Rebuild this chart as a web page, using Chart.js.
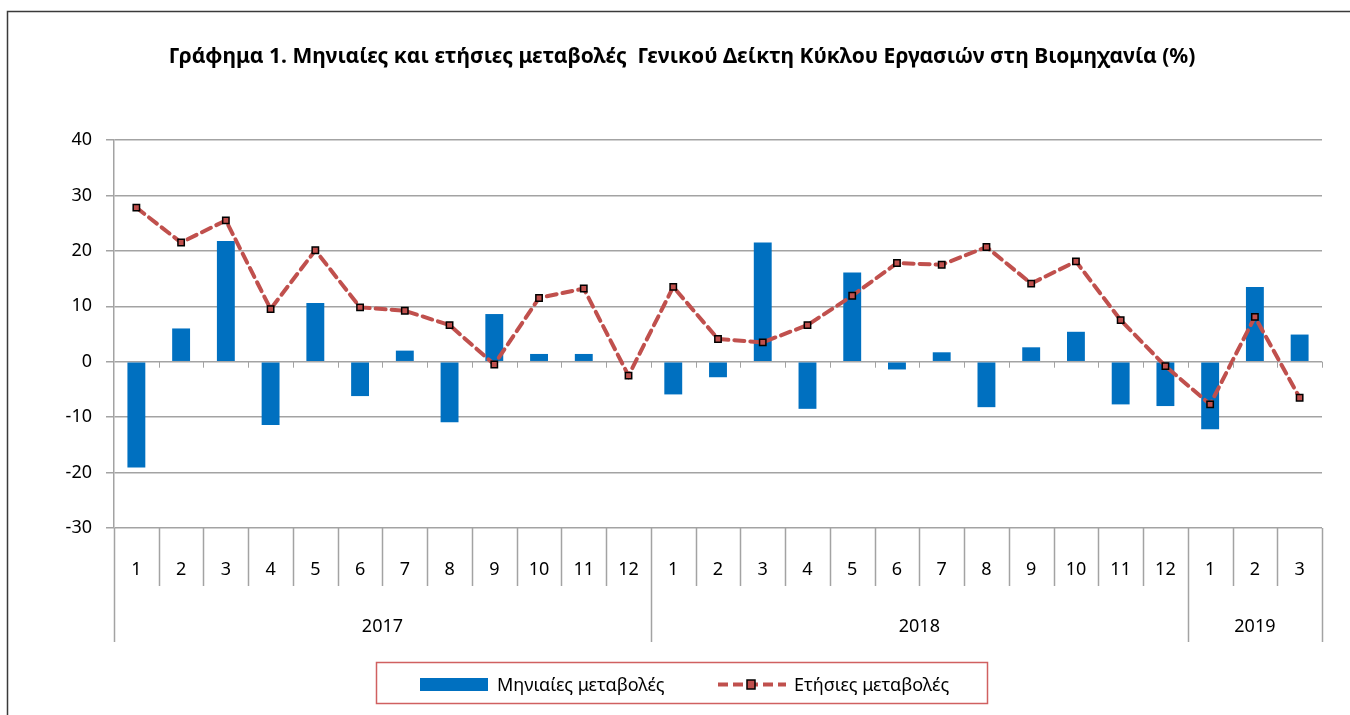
<!DOCTYPE html>
<html>
<head>
<meta charset="utf-8">
<script src="https://cdn.jsdelivr.net/npm/chart.js@4/dist/chart.umd.min.js"></script>
<style>
  html, body { margin: 0; padding: 0; background: #fff; }
  #wrap { width: 1350px; height: 715px; position: relative; }
</style>
</head>
<body>
<div id="wrap"><canvas id="turnoverchart" width="1350" height="715"></canvas></div>
<script>
// Data block
const monthLabels = ['1','2','3','4','5','6','7','8','9','10','11','12',
                     '1','2','3','4','5','6','7','8','9','10','11','12',
                     '1','2','3'];
const yearLabels = ['2017', '2018', '2019'];
const yearSpans = [12, 12, 3];
const monthlyChange = [-19.1, 6.0, 21.8, -11.4, 10.6, -6.2, 2.0, -10.9, 8.6, 1.4, 1.4, 0.0,
                       -5.9, -2.8, 21.5, -8.5, 16.1, -1.4, 1.7, -8.2, 2.6, 5.4, -7.7, -8.0,
                       -12.2, 13.5, 4.9];
const annualChange = [27.8, 21.5, 25.5, 9.5, 20.1, 9.8, 9.2, 6.6, -0.5, 11.5, 13.2, -2.5,
                      13.5, 4.1, 3.5, 6.6, 11.9, 17.8, 17.5, 20.7, 14.1, 18.1, 7.5, -0.8,
                      -7.7, 8.1, -6.5];
const seriesNames = ['Μηνιαίες μεταβολές', 'Ετήσιες μεταβολές'];
const chartTitle = 'Γράφημα 1. Μηνιαίες και ετήσιες μεταβολές  Γενικού Δείκτη Κύκλου Εργασιών στη Βιομηχανία (%)';

const FONT = '"Noto Sans", "Open Sans", sans-serif';
const BLUE = '#0070c0';
const RED = '#c0504d';
const GRID = '#a3a3a3';

// Frame, title, two level category axis and legend drawn on the canvas
const excelDecor = {
    id: 'excelDecor',
    afterDraw(chart) {
        const ctx = chart.ctx;
        const area = chart.chartArea;
        const xs = chart.scales.x;
        const ys = chart.scales.y;
        const n = monthLabels.length;
        const step = (area.right - area.left) / n;
        ctx.save();

        // outer frame
        ctx.strokeStyle = '#3a3a3a';
        ctx.lineWidth = 1.5;
        ctx.beginPath();
        ctx.moveTo(7.5, 715);
        ctx.lineTo(7.5, 11.5);
        ctx.lineTo(1350, 11.5);
        ctx.stroke();

        // title
        ctx.fillStyle = '#000';
        ctx.font = 'bold 21px ' + FONT;
        ctx.textAlign = 'center';
        ctx.textBaseline = 'middle';
        ctx.fillText(chartTitle, 682, 57);

        // small tick marks on the zero line
        const y0 = ys.getPixelForValue(0);
        ctx.strokeStyle = GRID;
        ctx.lineWidth = 1;
        for (let i = 1; i <= n; i++) {
            const x = Math.round(area.left + i * step) + 0.5;
            ctx.beginPath();
            ctx.moveTo(x, y0);
            ctx.lineTo(x, y0 + 6);
            ctx.stroke();
        }

        // month separators and labels
        const rowTop = area.bottom;
        const monthBottom = rowTop + 58;
        const yearBottom = rowTop + 114;
        ctx.lineWidth = 1.5;
        for (let i = 0; i <= n; i++) {
            const x = Math.round(area.left + i * step) + 0.5;
            ctx.beginPath();
            ctx.moveTo(x, rowTop);
            ctx.lineTo(x, monthBottom);
            ctx.stroke();
        }
        ctx.fillStyle = '#000';
        ctx.font = '18px ' + FONT;
        monthLabels.forEach((m, i) => {
            ctx.fillText(m, xs.getPixelForValue(i), rowTop + 42);
        });

        // year separators and labels
        let start = 0;
        const bounds = [0];
        yearSpans.forEach(s => { start += s; bounds.push(start); });
        bounds.forEach(b => {
            const x = Math.round(area.left + b * step) + 0.5;
            ctx.beginPath();
            ctx.moveTo(x, monthBottom);
            ctx.lineTo(x, yearBottom);
            ctx.stroke();
        });
        yearLabels.forEach((yl, i) => {
            const cx = area.left + (bounds[i] + bounds[i + 1]) / 2 * step;
            ctx.fillText(yl, cx, rowTop + 99);
        });

        // legend
        ctx.strokeStyle = '#d06060';
        ctx.lineWidth = 1.5;
        ctx.strokeRect(376.5, 662.5, 611, 41);
        ctx.fillStyle = BLUE;
        ctx.fillRect(420, 678, 68, 13);
        ctx.strokeStyle = RED;
        ctx.lineWidth = 4;
        ctx.setLineDash([10, 5]);
        ctx.beginPath();
        ctx.moveTo(718, 684.5);
        ctx.lineTo(786, 684.5);
        ctx.stroke();
        ctx.setLineDash([]);
        ctx.fillStyle = RED;
        ctx.fillRect(747, 680, 8, 9);
        ctx.strokeStyle = '#000';
        ctx.lineWidth = 1.5;
        ctx.strokeRect(747, 680, 8, 9);
        ctx.fillStyle = '#000';
        ctx.textAlign = 'left';
        ctx.font = '18px ' + FONT;
        ctx.fillText(seriesNames[0], 497, 686);
        ctx.fillText(seriesNames[1], 794, 686);

        ctx.restore();
    }
};

// Config block
const turnoverConfig = {
    type: 'bar',
    data: {
        labels: monthLabels,
        datasets: [
            {
                type: 'line',
                label: seriesNames[1],
                data: annualChange,
                borderColor: RED,
                borderWidth: 4,
                borderDash: [10, 6],
                borderCapStyle: 'round',
                tension: 0,
                pointStyle: 'rect',
                pointRadius: 4.5,
                pointBackgroundColor: RED,
                pointBorderColor: '#000',
                pointBorderWidth: 1.5,
                order: 0,
            },
            {
                type: 'bar',
                label: seriesNames[0],
                data: monthlyChange,
                backgroundColor: BLUE,
                barPercentage: 0.4,
                categoryPercentage: 1.0,
                order: 1,
            }
        ]
    },
    options: {
        responsive: false,
        animation: false,
        layout: {
            padding: {left: 0, top: 140, right: 28, bottom: 187}
        },
        plugins: {
            legend: { display: false },
            title: { display: false },
            tooltip: { enabled: false },
        },
        scales: {
            x: {
                display: false,
                offset: true,
            },
            y: {
                min: -30,
                max: 40,
                ticks: {
                    stepSize: 10,
                    color: '#000',
                    padding: 14,
                    font: { family: FONT, size: 18 },
                },
                grid: {
                    color: GRID,
                    lineWidth: 1.5,
                    tickLength: 8,
                },
                border: { color: GRID, width: 1.5 },
                afterFit(scale) { scale.width = 114; }
            }
        }
    },
    plugins: [excelDecor]
};

// render / init block
const turnoverChart = new Chart(
    document.getElementById('turnoverchart'),
    turnoverConfig
);
</script>
</body>
</html>
